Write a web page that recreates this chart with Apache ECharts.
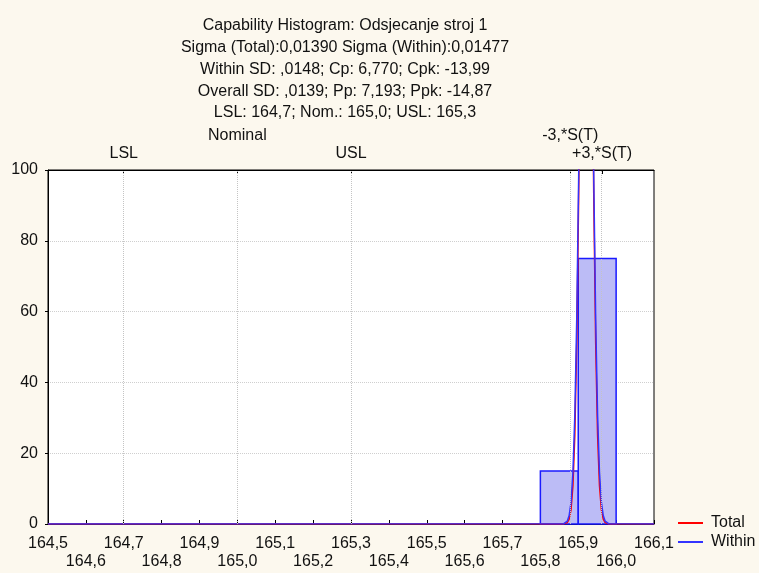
<!DOCTYPE html>
<html>
<head>
<meta charset="utf-8">
<script src="https://cdn.jsdelivr.net/npm/echarts@6/dist/echarts.min.js"></script>
<style>
  html, body { margin: 0; padding: 0; background: #fcf8ee; }
  #chart { width: 759px; height: 573px; }
</style>
</head>
<body>
<div id="chart"></div>
<script>
// title lines (text box of the capability histogram)
var titleLines = [
  'Capability Histogram: Odsjecanje stroj 1',
  'Sigma (Total):0,01390 Sigma (Within):0,01477',
  'Within SD: ,0148; Cp: 6,770; Cpk: -13,99',
  'Overall SD: ,0139; Pp: 7,193; Ppk: -14,87',
  'LSL: 164,7; Nom.: 165,0; USL: 165,3'
];

// x tick labels, staggered on two rows
var xRow1 = [164.5, 164.7, 164.9, 165.1, 165.3, 165.5, 165.7, 165.9, 166.1];
var xRow2 = [164.6, 164.8, 165.0, 165.2, 165.4, 165.6, 165.8, 166.0];

// histogram bins
var binStart = [165.8, 165.9];
var binEnd = [165.9, 166.0];
var binCount = [15, 75];

// spec / sigma lines
var specNames = ['LSL', 'Nominal', 'USL', '-3,*S(T)', '+3,*S(T)'];
var specValues = [164.7, 165.0, 165.3, 165.879, 165.963];
var specUpper = [false, true, false, true, false];

// fitted normal curves
var curveX = [164.5, 165.861, 165.871, 165.876, 165.881, 165.886, 165.891, 165.896, 165.901, 165.906, 165.911, 165.916, 165.921,
  165.926, 165.931, 165.936, 165.941, 165.946, 165.951, 165.956, 165.961, 165.966, 165.971, 165.981, 166.1];
var totalY = [0, 0.02, 0.4, 1.4, 4.1, 10.9, 25.2, 51.2, 91.8, 144.4, 199.4, 242, 258.3,
  242, 199.4, 144.4, 91.8, 51.2, 25.2, 10.9, 4.1, 1.4, 0.4, 0.02, 0];
var withinY = [0, 0.06, 0.8, 2.4, 6.2, 14.7, 30.9, 58.0, 97.2, 145.2, 193.3, 229.6, 243.1,
  229.6, 193.3, 145.2, 97.2, 58.0, 30.9, 14.7, 6.2, 2.4, 0.8, 0.06, 0];

var FONT = 'Liberation Sans';
var chart = echarts.init(document.getElementById('chart'));

function specName(v) {
  var best = 0;
  for (var i = 1; i < specValues.length; i++) {
    if (Math.abs(specValues[i] - v) < Math.abs(specValues[best] - v)) best = i;
  }
  return specNames[best];
}
function fmtNum(v) { return v.toFixed(1).replace('.', ','); }

var specLow = specValues.filter(function (v, i) { return !specUpper[i]; });
var specHigh = specValues.filter(function (v, i) { return specUpper[i]; });

var labelStyle = { color: '#111', fontSize: 16, fontFamily: FONT, hideOverlap: false };
var hidden = { show: false };

chart.setOption({
  animation: false,
  backgroundColor: '#fcf8ee',
  textStyle: { fontFamily: FONT },
  graphic: [{
    type: 'text',
    x: 345,
    y: 15,
    style: {
      text: titleLines.join('\n'),
      fontFamily: FONT,
      fontSize: 16,
      lineHeight: 21.75,
      fill: '#111',
      align: 'center',
      verticalAlign: 'top'
    }
  }],
  legend: {
    orient: 'vertical',
    left: 678,
    top: 515,
    padding: 0,
    icon: 'rect',
    itemWidth: 25,
    itemHeight: 2,
    itemGap: 3,
    textStyle: { fontFamily: FONT, fontSize: 16, color: '#111', lineHeight: 16, padding: [0, 0, 0, 3] },
    data: ['Total', 'Within']
  },
  grid: {
    left: 48, right: 105, top: 170, bottom: 49,
    show: true, backgroundColor: '#fff', borderColor: '#000', borderWidth: 1
  },
  xAxis: [{
    type: 'value',
    min: 164.5, max: 166.1, interval: 0.1,
    axisLine: { show: true, lineStyle: { color: '#000', width: 1 } },
    axisTick: { show: true, inside: true, length: 4, lineStyle: { color: '#000' } },
    splitLine: { show: false },
    axisLabel: Object.assign({ margin: 12, customValues: xRow1, formatter: fmtNum }, labelStyle)
  }, {
    type: 'value',
    position: 'bottom',
    min: 164.5, max: 166.1,
    axisLine: hidden, axisTick: hidden, splitLine: hidden,
    axisLabel: Object.assign({ margin: 30, customValues: xRow2, formatter: fmtNum }, labelStyle)
  }, {
    type: 'value',
    position: 'top',
    min: 164.5, max: 166.1,
    axisLine: { show: true, lineStyle: { color: '#000', width: 1 } },
    axisTick: { show: true, inside: true, length: 4, customValues: specValues, lineStyle: { color: '#000' } },
    splitLine: hidden,
    axisLabel: Object.assign({ margin: 8, customValues: specLow, formatter: specName }, labelStyle)
  }, {
    type: 'value',
    position: 'top',
    min: 164.5, max: 166.1,
    axisLine: hidden, axisTick: hidden, splitLine: hidden,
    axisLabel: Object.assign({ margin: 26, customValues: specHigh, formatter: specName }, labelStyle)
  }],
  yAxis: {
    type: 'value',
    min: 0, max: 100, interval: 20,
    axisLine: { show: true, lineStyle: { color: '#000' } },
    axisTick: { show: true, length: 3, lineStyle: { color: '#000' } },
    axisLabel: { color: '#111', fontSize: 16, fontFamily: FONT, margin: 10 },
    splitLine: { show: true, lineStyle: { color: '#cfcfcf', type: 'dotted' } }
  },
  series: [
    {
      type: 'custom',
      name: 'hist',
      z: 2,
      data: binCount.map(function (c, i) { return [binStart[i], binEnd[i], c]; }),
      renderItem: function (params, api) {
        var p0 = api.coord([api.value(0), api.value(2)]);
        var p1 = api.coord([api.value(1), 0]);
        return {
          type: 'rect',
          shape: { x: p0[0], y: p0[1], width: p1[0] - p0[0], height: p1[1] - p0[1] },
          style: { fill: '#bcbcf6', stroke: '#1a1aff', lineWidth: 1.5 }
        };
      },
      markLine: {
        silent: true,
        symbol: ['none', 'none'],
        label: { show: false },
        lineStyle: { color: '#c4c4c4', type: 'dotted', width: 1 },
        data: specValues.map(function (v) { return { xAxis: v }; })
      }
    },
    {
      type: 'line',
      name: 'Total',
      z: 3,
      symbol: 'none',
      color: '#ff0000',
      lineStyle: { color: '#ff0000', width: 1.5 },
      data: curveX.map(function (x, i) { return [x, totalY[i]]; })
    },
    {
      type: 'line',
      name: 'Within',
      z: 4,
      symbol: 'none',
      color: '#3333ff',
      lineStyle: { color: '#3333ff', width: 1.5 },
      data: curveX.map(function (x, i) { return [x, withinY[i]]; })
    }
  ]
});
</script>
</body>
</html>
